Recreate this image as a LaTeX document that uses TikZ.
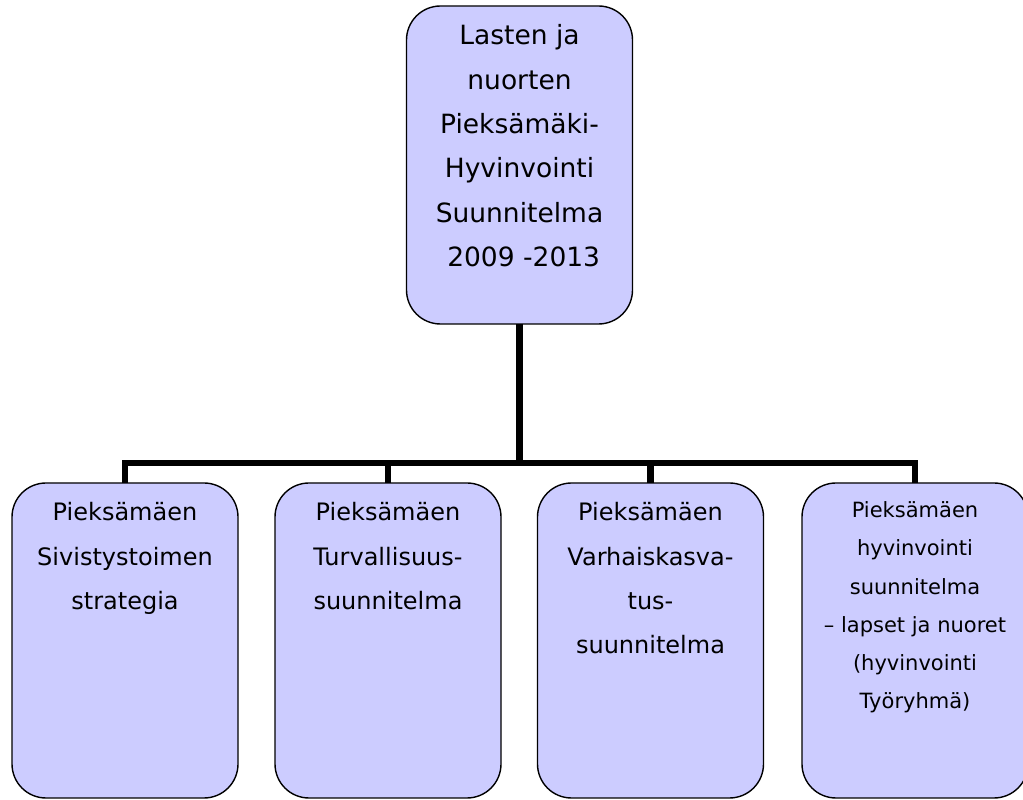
\documentclass[tikz,border=0pt]{standalone}
\usepackage{fontspec}
\setmainfont{DejaVu Sans}
\definecolor{boxfill}{HTML}{CCCCFF}
\newcommand{\boxtext}[5]{\parbox[c][#2pt][t]{226pt}{\centering\fontsize{#3}{#4}\selectfont\vspace*{#5pt}\strut #1\par}}
\begin{document}
\begin{tikzpicture}[x=1pt,y=1pt,
  orgbox/.style={draw=black, line width=1.4pt, fill=boxfill, rounded corners=34pt, inner sep=0pt, outer sep=0pt},
  conn/.style={draw=black, line width=6.5pt, line join=miter}]
\useasboundingbox (0,0) rectangle (1023,800);
\node[orgbox] (top) at (519.5,635) {\boxtext{Lasten ja\\ nuorten\\ Pieksämäki-\\ Hyvinvointi\\ Suunnitelma\\ ~2009 -2013}{318}{26.5}{44.4}{7.6}};
\node[orgbox] (b1) at (125,159.5) {\boxtext{Pieksämäen\\ Sivistystoimen\\ strategia}{315}{24}{44.2}{7}};
\node[orgbox] (b2) at (388,159.5) {\boxtext{Pieksämäen\\ Turvallisuus-\\ suunnitelma}{315}{24}{44.2}{7}};
\node[orgbox] (b3) at (650.5,159.5) {\boxtext{Pieksämäen\\ Varhaiskasva-\\ tus-\\ suunnitelma}{315}{24}{44.2}{7}};
\node[orgbox] (b4) at (915,159.5) {\boxtext{Pieksämäen\\ hyvinvointi\\ suunnitelma\\ – lapset ja nuoret\\ (hyvinvointi\\ Työryhmä)}{315}{21}{38.2}{8}};
\draw[conn] (b1.north) -- ++(0,20) coordinate (bar) -| (b4.north);
\draw[conn] (top.south) -- (top.south |- bar);
\draw[conn] (b2.north) -- (b2.north |- bar);
\draw[conn] (b3.north) -- (b3.north |- bar);
\end{tikzpicture}
\end{document}
